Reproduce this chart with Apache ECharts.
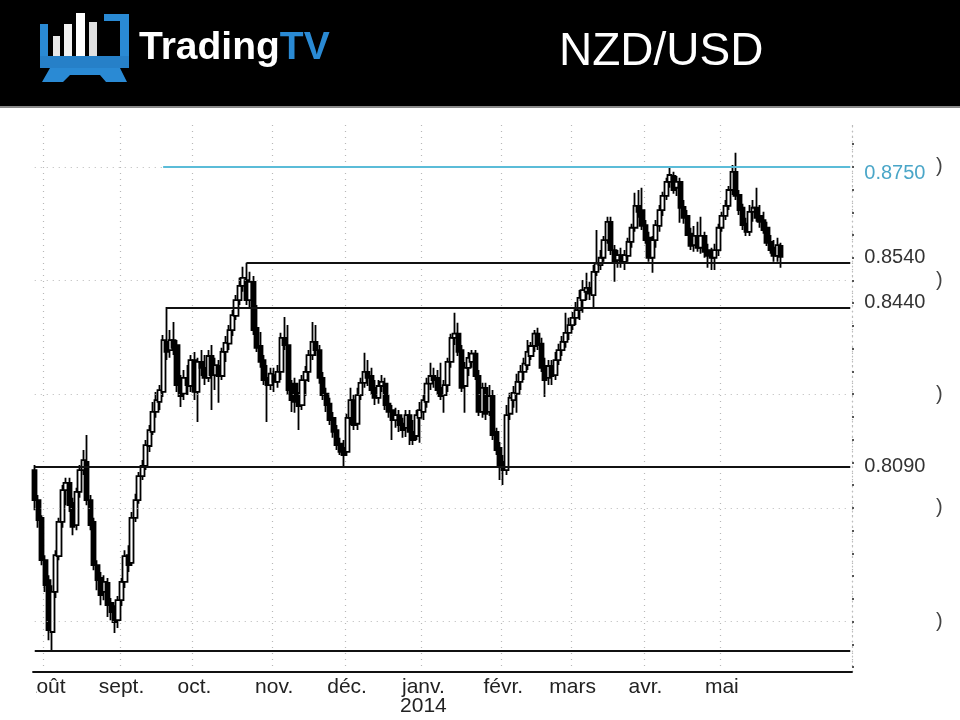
<!DOCTYPE html>
<html>
<head>
<meta charset="utf-8">
<title>NZD/USD</title>
<script src="https://cdn.jsdelivr.net/npm/echarts/dist/echarts.min.js"></script>
<style>
  html, body { margin: 0; padding: 0; background: #fff; }
  #chart { width: 960px; height: 720px; }
</style>
</head>
<body>
<div id="chart"></div>
<script>
// trading days, grouped by month
var monthDays = [
    ['2013-07', [29,30,31]],
    ['2013-08', [1,2,5,6,7,8,9,12,13,14,15,16,19,20,21,22,23,26,27,28,29,30]],
    ['2013-09', [2,3,4,5,6,9,10,11,12,13,16,17,18,19,20,23,24,25,26,27,30]],
    ['2013-10', [1,2,3,4,7,8,9,10,11,14,15,16,17,18,21,22,23,24,25,28,29,30,31]],
    ['2013-11', [1,4,5,6,7,8,11,12,13,14,15,18,19,20,21,22,25,26,27,28,29]],
    ['2013-12', [2,3,4,5,6,9,10,11,12,13,16,17,18,19,20,23,24,25,26,27,30,31]],
    ['2014-01', [1,2,3,6,7,8,9,10,13,14,15,16,17,20,21,22,23,24,27,28,29,30,31]],
    ['2014-02', [3,4,5,6,7,10,11,12,13,14,17,18,19,20,21,24,25,26,27,28]],
    ['2014-03', [3,4,5,6,7,10,11,12,13,14,17,18,19,20,21,24,25,26,27,28,31]],
    ['2014-04', [1,2,3,4,7,8,9,10,11,14,15,16,17,18,21,22,23,24,25,28,29,30]],
    ['2014-05', [1,2,5,6,7,8,9,12,13,14,15,16,19,20,21,22,23,26,27,28,29,30]],
    ['2014-06', [2,3,4,5,6,9,10,11,12,13,16,17,18,19,20,23]]
];
var monthLabels = ['', 'août', 'sept.', 'oct.', 'nov.', 'déc.', 'janv.', 'févr.', 'mars', 'avr.', 'mai', ''];
var yearLabels = { '2014-01': '2014' };

var opens = [
0.8083,0.8017,0.7978,0.7885,0.7841,0.7727,0.7815,0.7894,0.7969,0.8039,0.8055,0.8011,0.7962,0.8035,0.8083,0.8101,0.8017,0.7969,0.7874,0.7846,
0.7815,0.7835,0.7791,0.7771,0.7753,0.7797,0.7837,0.7896,0.7879,0.7978,0.8017,0.8070,0.8092,0.8136,0.8167,0.8211,0.8233,0.8255,0.8365,0.8347,
0.8369,0.8358,0.8275,0.8251,0.8286,0.8268,0.8325,0.8255,0.8321,0.8308,0.8286,0.8334,0.8292,0.8312,0.8290,0.8343,0.8361,0.8391,0.8422,0.8457,
0.8488,0.8501,0.8457,0.8497,0.8396,0.8356,0.8325,0.8286,0.8270,0.8292,0.8277,0.8299,0.8374,0.8358,0.8264,0.8273,0.8233,0.8226,0.8281,0.8299,
0.8336,0.8365,0.8347,0.8286,0.8251,0.8229,0.8198,0.8171,0.8141,0.8132,0.8123,0.8198,0.8237,0.8185,0.8248,0.8275,0.8299,0.8290,0.8264,0.8242,
0.8268,0.8273,0.8229,0.8215,0.8193,0.8204,0.8185,0.8176,0.8204,0.8167,0.8158,0.8198,0.8211,0.8233,0.8273,0.8290,0.8286,0.8264,0.8248,0.8270,
0.8321,0.8374,0.8383,0.8347,0.8268,0.8308,0.8321,0.8339,0.8290,0.8211,0.8264,0.8211,0.8246,0.8167,0.8132,0.8101,0.8083,0.8207,0.8237,0.8251,
0.8277,0.8299,0.8314,0.8334,0.8356,0.8383,0.8361,0.8312,0.8286,0.8312,0.8292,0.8325,0.8347,0.8365,0.8385,0.8402,0.8418,0.8435,0.8457,0.8475,
0.8484,0.8468,0.8519,0.8534,0.8550,0.8589,0.8629,0.8567,0.8545,0.8556,0.8541,0.8554,0.8585,0.8616,0.8664,0.8655,0.8622,0.8594,0.8550,0.8589,
0.8620,0.8655,0.8686,0.8717,0.8730,0.8704,0.8717,0.8662,0.8642,0.8603,0.8578,0.8598,0.8572,0.8598,0.8567,0.8556,0.8550,0.8567,0.8616,0.8642,
0.8664,0.8699,0.8739,0.8688,0.8660,0.8625,0.8607,0.8651,0.8660,0.8642,0.8633,0.8616,0.8585,0.8572,0.8554,0.8576
];
var closes = [
0.8017,0.7973,0.7885,0.7830,0.7731,0.7815,0.7896,0.7969,0.8039,0.8055,0.8006,0.7958,0.8035,0.8083,0.8105,0.8017,0.7962,0.7874,0.7841,0.7808,
0.7837,0.7786,0.7771,0.7749,0.7797,0.7837,0.7894,0.7874,0.7978,0.8017,0.8070,0.8092,0.8138,0.8171,0.8211,0.8237,0.8259,0.8369,0.8343,0.8369,
0.8352,0.8270,0.8246,0.8286,0.8270,0.8325,0.8255,0.8321,0.8308,0.8286,0.8334,0.8292,0.8314,0.8290,0.8343,0.8363,0.8391,0.8424,0.8457,0.8488,
0.8506,0.8457,0.8497,0.8391,0.8352,0.8321,0.8281,0.8270,0.8295,0.8277,0.8299,0.8374,0.8358,0.8259,0.8237,0.8233,0.8224,0.8281,0.8299,0.8336,
0.8365,0.8347,0.8286,0.8248,0.8226,0.8193,0.8167,0.8138,0.8123,0.8116,0.8198,0.8237,0.8182,0.8248,0.8275,0.8299,0.8286,0.8259,0.8242,0.8268,
0.8277,0.8226,0.8211,0.8193,0.8204,0.8182,0.8171,0.8204,0.8167,0.8149,0.8204,0.8215,0.8237,0.8273,0.8290,0.8281,0.8259,0.8246,0.8270,0.8321,
0.8374,0.8383,0.8343,0.8264,0.8308,0.8330,0.8339,0.8290,0.8211,0.8264,0.8207,0.8246,0.8160,0.8127,0.8094,0.8083,0.8204,0.8242,0.8253,0.8277,
0.8299,0.8317,0.8343,0.8356,0.8383,0.8358,0.8308,0.8281,0.8312,0.8290,0.8325,0.8347,0.8365,0.8385,0.8402,0.8418,0.8435,0.8462,0.8479,0.8484,
0.8471,0.8519,0.8537,0.8550,0.8589,0.8629,0.8567,0.8541,0.8556,0.8541,0.8556,0.8585,0.8616,0.8664,0.8651,0.8620,0.8589,0.8550,0.8589,0.8622,
0.8655,0.8686,0.8717,0.8732,0.8699,0.8717,0.8660,0.8638,0.8600,0.8576,0.8598,0.8572,0.8598,0.8563,0.8554,0.8550,0.8567,0.8616,0.8642,0.8664,
0.8699,0.8739,0.8686,0.8655,0.8622,0.8607,0.8651,0.8660,0.8638,0.8629,0.8611,0.8583,0.8567,0.8554,0.8578,0.8552
];
var lows = [
0.7995,0.7956,0.7874,0.7815,0.7709,0.7685,0.7802,0.7885,0.7956,0.8006,0.7991,0.7940,0.7951,0.8022,0.8072,0.8006,0.7951,0.7863,0.7819,0.7786,
0.7797,0.7760,0.7753,0.7725,0.7736,0.7784,0.7824,0.7859,0.7872,0.7969,0.8009,0.8061,0.8083,0.8123,0.8160,0.8198,0.8215,0.8244,0.8325,0.8330,
0.8336,0.8255,0.8222,0.8237,0.8248,0.8255,0.8237,0.8189,0.8290,0.8270,0.8277,0.8215,0.8259,0.8231,0.8281,0.8321,0.8347,0.8378,0.8413,0.8446,
0.8475,0.8446,0.8440,0.8380,0.8343,0.8308,0.8270,0.8189,0.8259,0.8255,0.8264,0.8281,0.8347,0.8248,0.8211,0.8209,0.8171,0.8215,0.8246,0.8277,
0.8325,0.8334,0.8273,0.8237,0.8211,0.8182,0.8154,0.8127,0.8116,0.8090,0.8114,0.8182,0.8171,0.8171,0.8237,0.8264,0.8268,0.8248,0.8226,0.8229,
0.8255,0.8215,0.8198,0.8149,0.8176,0.8167,0.8154,0.8156,0.8138,0.8138,0.8149,0.8143,0.8193,0.8220,0.8259,0.8264,0.8248,0.8237,0.8209,0.8255,
0.8308,0.8358,0.8334,0.8255,0.8209,0.8290,0.8308,0.8281,0.8202,0.8198,0.8193,0.8202,0.8149,0.8116,0.8061,0.8050,0.8072,0.8193,0.8220,0.8209,
0.8259,0.8281,0.8303,0.8325,0.8343,0.8347,0.8299,0.8244,0.8270,0.8270,0.8281,0.8314,0.8334,0.8352,0.8369,0.8391,0.8402,0.8413,0.8429,0.8457,
0.8457,0.8442,0.8510,0.8523,0.8541,0.8581,0.8556,0.8497,0.8528,0.8528,0.8523,0.8541,0.8572,0.8607,0.8638,0.8611,0.8581,0.8541,0.8517,0.8572,
0.8607,0.8642,0.8677,0.8704,0.8691,0.8686,0.8627,0.8625,0.8598,0.8567,0.8563,0.8563,0.8559,0.8550,0.8528,0.8523,0.8523,0.8554,0.8607,0.8633,
0.8655,0.8688,0.8677,0.8644,0.8611,0.8598,0.8598,0.8629,0.8629,0.8616,0.8603,0.8576,0.8559,0.8541,0.8541,0.8528
];
var highs = [
0.8094,0.8028,0.7984,0.7896,0.7852,0.7830,0.7907,0.7978,0.8050,0.8066,0.8066,0.8022,0.8044,0.8094,0.8127,0.8160,0.8028,0.7978,0.7885,0.7859,
0.7852,0.7846,0.7802,0.7786,0.7806,0.7846,0.7907,0.7918,0.7991,0.8031,0.8079,0.8105,0.8149,0.8182,0.8233,0.8255,0.8270,0.8380,0.8442,0.8391,
0.8409,0.8369,0.8292,0.8303,0.8314,0.8336,0.8343,0.8330,0.8347,0.8336,0.8347,0.8358,0.8330,0.8325,0.8352,0.8378,0.8402,0.8435,0.8468,0.8506,
0.8530,0.8539,0.8519,0.8510,0.8446,0.8387,0.8336,0.8314,0.8308,0.8308,0.8314,0.8385,0.8420,0.8402,0.8281,0.8286,0.8255,0.8292,0.8312,0.8347,
0.8409,0.8402,0.8358,0.8299,0.8264,0.8242,0.8211,0.8182,0.8154,0.8149,0.8207,0.8264,0.8248,0.8264,0.8286,0.8341,0.8325,0.8308,0.8281,0.8281,
0.8292,0.8286,0.8248,0.8226,0.8220,0.8215,0.8198,0.8215,0.8215,0.8193,0.8215,0.8233,0.8248,0.8286,0.8319,0.8308,0.8303,0.8319,0.8281,0.8330,
0.8383,0.8429,0.8407,0.8358,0.8321,0.8343,0.8347,0.8347,0.8303,0.8275,0.8275,0.8270,0.8259,0.8176,0.8145,0.8116,0.8226,0.8253,0.8268,0.8295,
0.8314,0.8330,0.8369,0.8365,0.8391,0.8396,0.8374,0.8330,0.8325,0.8325,0.8343,0.8361,0.8378,0.8429,0.8418,0.8431,0.8453,0.8479,0.8501,0.8517,
0.8497,0.8534,0.8611,0.8567,0.8598,0.8640,0.8640,0.8578,0.8567,0.8572,0.8567,0.8594,0.8625,0.8693,0.8699,0.8704,0.8633,0.8607,0.8598,0.8633,
0.8666,0.8695,0.8726,0.8748,0.8739,0.8730,0.8726,0.8677,0.8655,0.8616,0.8620,0.8629,0.8640,0.8607,0.8581,0.8572,0.8581,0.8625,0.8651,0.8677,
0.8708,0.8754,0.8781,0.8699,0.8669,0.8638,0.8666,0.8677,0.8704,0.8666,0.8651,0.8629,0.8600,0.8589,0.8594,0.8583
];

// support / resistance levels and the day each line starts from
var levels = [0.8750, 0.8540, 0.8440, 0.8090];
var levelStart = [37, 61, 38, 0];
var floorLevel = 0.7685;

var majorTicks = [0.775, 0.800, 0.825, 0.850, 0.875];
var minorTicks = [0.765,0.770,0.775,0.780,0.785,0.790,0.795,0.800,0.805,0.810,0.815,0.820,0.825,
                  0.830,0.835,0.840,0.845,0.850,0.855,0.860,0.865,0.870,0.875,0.880];

var dates = [];
var labelAt = {};
monthDays.forEach(function (m, k) {
    m[1].forEach(function (d, j) {
        var s = m[0] + '-' + (d < 10 ? '0' : '') + d;
        if (j === 0 && monthLabels[k]) {
            labelAt[s] = monthLabels[k] + (yearLabels[m[0]] ? '\n' + yearLabels[m[0]] : '');
        }
        dates.push(s);
    });
});

var candles = [];
for (var i = 0; i < opens.length; i++) {
    candles.push([opens[i], closes[i], lows[i], highs[i]]);
}

var firstDay = dates[0];
var lastDay = dates[dates.length - 1];
var gridDots = { color: '#b8b8b8', type: [1, 5], width: 1.2 };
var lineLabelOffset = [[0, 7], [0, -5], [0, -5], [0, 0]];
var marks = [];
// dotted horizontal grid
majorTicks.forEach(function (v) {
    marks.push([
        { coord: [firstDay, v] },
        { coord: [lastDay, v], lineStyle: gridDots, label: { show: false } }
    ]);
});
levels.forEach(function (v, k) {
    var blue = k === 0;
    marks.push([
        { coord: [dates[levelStart[k]], v] },
        {
            coord: [lastDay, v],
            lineStyle: { color: blue ? '#5bbcd8' : '#111', width: 2, type: 'solid' },
            label: {
                show: true,
                position: 'end',
                distance: 14,
                offset: lineLabelOffset[k],
                formatter: v.toFixed(4),
                color: blue ? '#4aa6c8' : '#333',
                fontSize: 20,
                fontFamily: 'Liberation Sans, Arial, sans-serif'
            }
        }
    ]);
});
marks.push([
    { coord: [firstDay, floorLevel] },
    { coord: [lastDay, floorLevel], lineStyle: { color: '#111', width: 2, type: 'solid' }, label: { show: false } }
]);

var chart = echarts.init(document.getElementById('chart'));
var option = {
    animation: false,
    backgroundColor: '#fff',
    textStyle: { fontFamily: 'Liberation Sans, Arial, sans-serif' },
    grid: { left: 33, right: 108, top: 125, bottom: 48 },
    xAxis: {
        type: 'category',
        data: dates,
        boundaryGap: true,
        axisLine: { show: true, lineStyle: { color: '#111', width: 1.8 } },
        axisTick: { show: false },
        axisLabel: {
            interval: function (idx, v) { return !!labelAt[v]; },
            formatter: function (v) { return labelAt[v] || ''; },
            color: '#222',
            fontSize: 21,
            lineHeight: 19,
            margin: 6
        },
        splitLine: {
            show: true,
            interval: function (idx, v) { return !!labelAt[v]; },
            lineStyle: gridDots
        }
    },
    yAxis: {
        type: 'value',
        position: 'right',
        min: 0.7639,
        max: 0.8842,
        splitLine: { show: false },
        axisLine: { show: true, lineStyle: { color: '#bdbdbd', type: [1, 4], width: 1.2 } },
        axisTick: { show: true, customValues: minorTicks, length: 2, lineStyle: { color: '#555', width: 2 } },
        axisLabel: {
            customValues: majorTicks,
            formatter: function () { return ')'; },
            margin: 84,
            color: '#444',
            fontSize: 20
        }
    },
    series: [{
        type: 'candlestick',
        data: candles,
        barWidth: 4.6,
        itemStyle: {
            color: '#fff',
            color0: '#000',
            borderColor: '#000',
            borderColor0: '#000',
            borderWidth: 1.8
        },
        markLine: {
            silent: true,
            symbol: ['none', 'none'],
            animation: false,
            data: marks
        }
    }],
    graphic: [
        { type: 'rect', shape: { x: 0, y: 0, width: 960, height: 106 }, style: { fill: '#000' } },
        { type: 'rect', shape: { x: 0, y: 106, width: 960, height: 2 }, style: { fill: '#8a8a8a' } },
        // logo: screen with bars
        { type: 'rect', shape: { x: 40, y: 24, width: 8, height: 34 }, style: { fill: '#2a8ad4' } },
        { type: 'rect', shape: { x: 53, y: 36, width: 7, height: 20 }, style: { fill: '#e8e8e8' } },
        { type: 'rect', shape: { x: 64, y: 24, width: 8, height: 32 }, style: { fill: '#f2f2f2' } },
        { type: 'rect', shape: { x: 76, y: 13, width: 9, height: 43 }, style: { fill: '#ffffff' } },
        { type: 'rect', shape: { x: 89, y: 22, width: 8, height: 34 }, style: { fill: '#e0e0e0' } },
        { type: 'rect', shape: { x: 104, y: 14, width: 25, height: 7 }, style: { fill: '#2a8ad4' } },
        { type: 'rect', shape: { x: 120, y: 14, width: 9, height: 44 }, style: { fill: '#2a8ad4' } },
        { type: 'rect', shape: { x: 40, y: 56, width: 89, height: 12 }, style: { fill: '#2680c8' } },
        { type: 'polygon', shape: { points: [[50, 68], [120, 68], [127, 82], [106, 82], [100, 75], [70, 75], [63, 82], [42, 82]] },
          style: { fill: '#2a8ad4' } },
        { type: 'text', left: 139, top: 29,
          style: {
              text: '{a|Trading}{b|TV}',
              rich: {
                  a: { fill: '#fff', fontSize: 39, fontWeight: 'bold', fontFamily: 'Liberation Sans, Arial, sans-serif' },
                  b: { fill: '#2a8ad4', fontSize: 39, fontWeight: 'bold', fontFamily: 'Liberation Sans, Arial, sans-serif' }
              }
          } },
        { type: 'text', left: 559, top: 29,
          style: { text: 'NZD/USD', fill: '#fff', fontSize: 46, fontFamily: 'Liberation Sans, Arial, sans-serif' } },
        // the month label for August is cut at the plot's left edge
        { type: 'rect', z: 100, shape: { x: 0, y: 674, width: 36, height: 30 }, style: { fill: '#fff' } }
    ]
};
chart.setOption(option);
</script>
</body>
</html>
